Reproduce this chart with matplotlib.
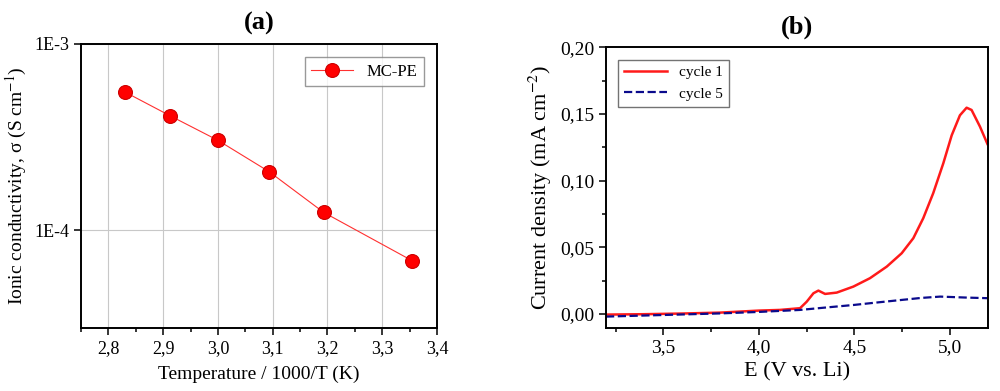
import matplotlib.pyplot as plt
import numpy as np
from matplotlib.ticker import FixedLocator, MultipleLocator, FuncFormatter, NullLocator

plt.rcParams['font.family'] = ['Liberation Serif', 'DejaVu Serif']
plt.rcParams['mathtext.fontset'] = 'stix'

# (a) ionic conductivity vs 1000/T
inv_T = [2.830, 2.913, 3.000, 3.094, 3.193, 3.354]
sigma = [5.52e-4, 4.11e-4, 3.04e-4, 2.06e-4, 1.25e-4, 6.9e-5]

# (b) linear sweep voltammetry
E_c1 = [3.20, 3.40, 3.60, 3.80, 4.00, 4.11, 4.216, 4.251, 4.286, 4.312, 4.347, 4.408, 4.495,
        4.582, 4.670, 4.748, 4.809, 4.861, 4.913, 4.966, 5.010, 5.053, 5.088, 5.114, 5.158, 5.197]
j_c1 = [-0.0005, -0.0002, 0.0003, 0.0010, 0.0025, 0.0030, 0.0043, 0.0092, 0.0155, 0.0175, 0.0150, 0.0160, 0.0205,
        0.0268, 0.0355, 0.0455, 0.0568, 0.0718, 0.0905, 0.1130, 0.1340, 0.1490, 0.1547, 0.1530, 0.1405, 0.1275]
E_c5 = [3.20, 3.50, 3.80, 4.00, 4.216, 4.35, 4.495, 4.62, 4.748, 4.85, 4.95, 5.08, 5.20]
j_c5 = [-0.002, -0.0008, 0.0004, 0.0015, 0.0030, 0.0048, 0.0067, 0.0086, 0.0105, 0.0120, 0.0130, 0.0123, 0.0118]

comma = FuncFormatter(lambda v, p: f"{v:.1f}".replace('.', ','))
comma2 = FuncFormatter(lambda v, p: f"{v:.2f}".replace('.', ','))

fig = plt.figure(figsize=(10, 3.91), dpi=100)
ax1 = fig.add_axes([0.081, 0.161, 0.356, 0.727])
ax2 = fig.add_axes([0.606, 0.162, 0.382, 0.717])

ax1.plot(inv_T, sigma, '-', color='#ff3030', lw=0.8, marker='o', ms=10,
         mfc='#ff0000', mec='#cc0000', mew=0.8, label='MC-PE')
ax1.set_yscale('log')
ax1.set_xlim(2.75, 3.4)
ax1.set_ylim(3.0e-5, 1e-3)
ax1.yaxis.set_major_locator(FixedLocator([1e-4, 1e-3]))
ax1.yaxis.set_minor_locator(NullLocator())
ax1.yaxis.set_major_formatter(FuncFormatter(lambda v, p: {1e-4: '1E-4', 1e-3: '1E-3'}.get(v, '')))
ax1.xaxis.set_major_locator(MultipleLocator(0.1))
ax1.xaxis.set_minor_locator(MultipleLocator(0.05))
ax1.xaxis.set_major_formatter(comma)
ax1.grid(True, which='major', color='#c8c8c8', lw=0.8)
ax1.set_xlabel('Temperature / 1000/T (K)', fontsize=14, labelpad=6)
ax1.set_ylabel('Ionic conductivity, σ (S cm$^{-1}$)', fontsize=14)
ax1.set_title('(a)', fontsize=19, fontweight='bold', pad=10)
ax1.legend(loc='upper right', fontsize=12, fancybox=False, edgecolor='#808080',
           handlelength=2.5, borderaxespad=0.8)

ax2.plot(E_c1, j_c1, '-', color='#ff1a1a', lw=1.8, label='cycle 1')
ax2.plot(E_c5, j_c5, '--', color='#0a0a8c', lw=1.6, label='cycle 5')
ax2.set_xlim(3.2, 5.2)
ax2.set_ylim(-0.0103, 0.20)
ax2.xaxis.set_major_locator(MultipleLocator(0.5))
ax2.xaxis.set_minor_locator(MultipleLocator(0.25))
ax2.yaxis.set_major_locator(MultipleLocator(0.05))
ax2.yaxis.set_minor_locator(MultipleLocator(0.025))
ax2.xaxis.set_major_formatter(comma)
ax2.yaxis.set_major_formatter(comma2)
ax2.set_xlabel('E (V vs. Li)', fontsize=16)
ax2.set_ylabel('Current density (mA cm$^{-2}$)', fontsize=16)
ax2.set_title('(b)', fontsize=19, fontweight='bold', pad=10)
ax2.legend(loc='upper left', fontsize=11, fancybox=False, edgecolor='#505050',
           handlelength=2.8, borderaxespad=0.8)

for ax in (ax1, ax2):
    for s in ax.spines.values():
        s.set_linewidth(1.4)
    ax.tick_params(which='both', direction='out', labelsize=13, width=1.1)
    ax.tick_params(which='major', length=5)
    ax.tick_params(which='minor', length=3)
ax2.tick_params(labelsize=14)

fig.savefig('out.png', dpi=100)
